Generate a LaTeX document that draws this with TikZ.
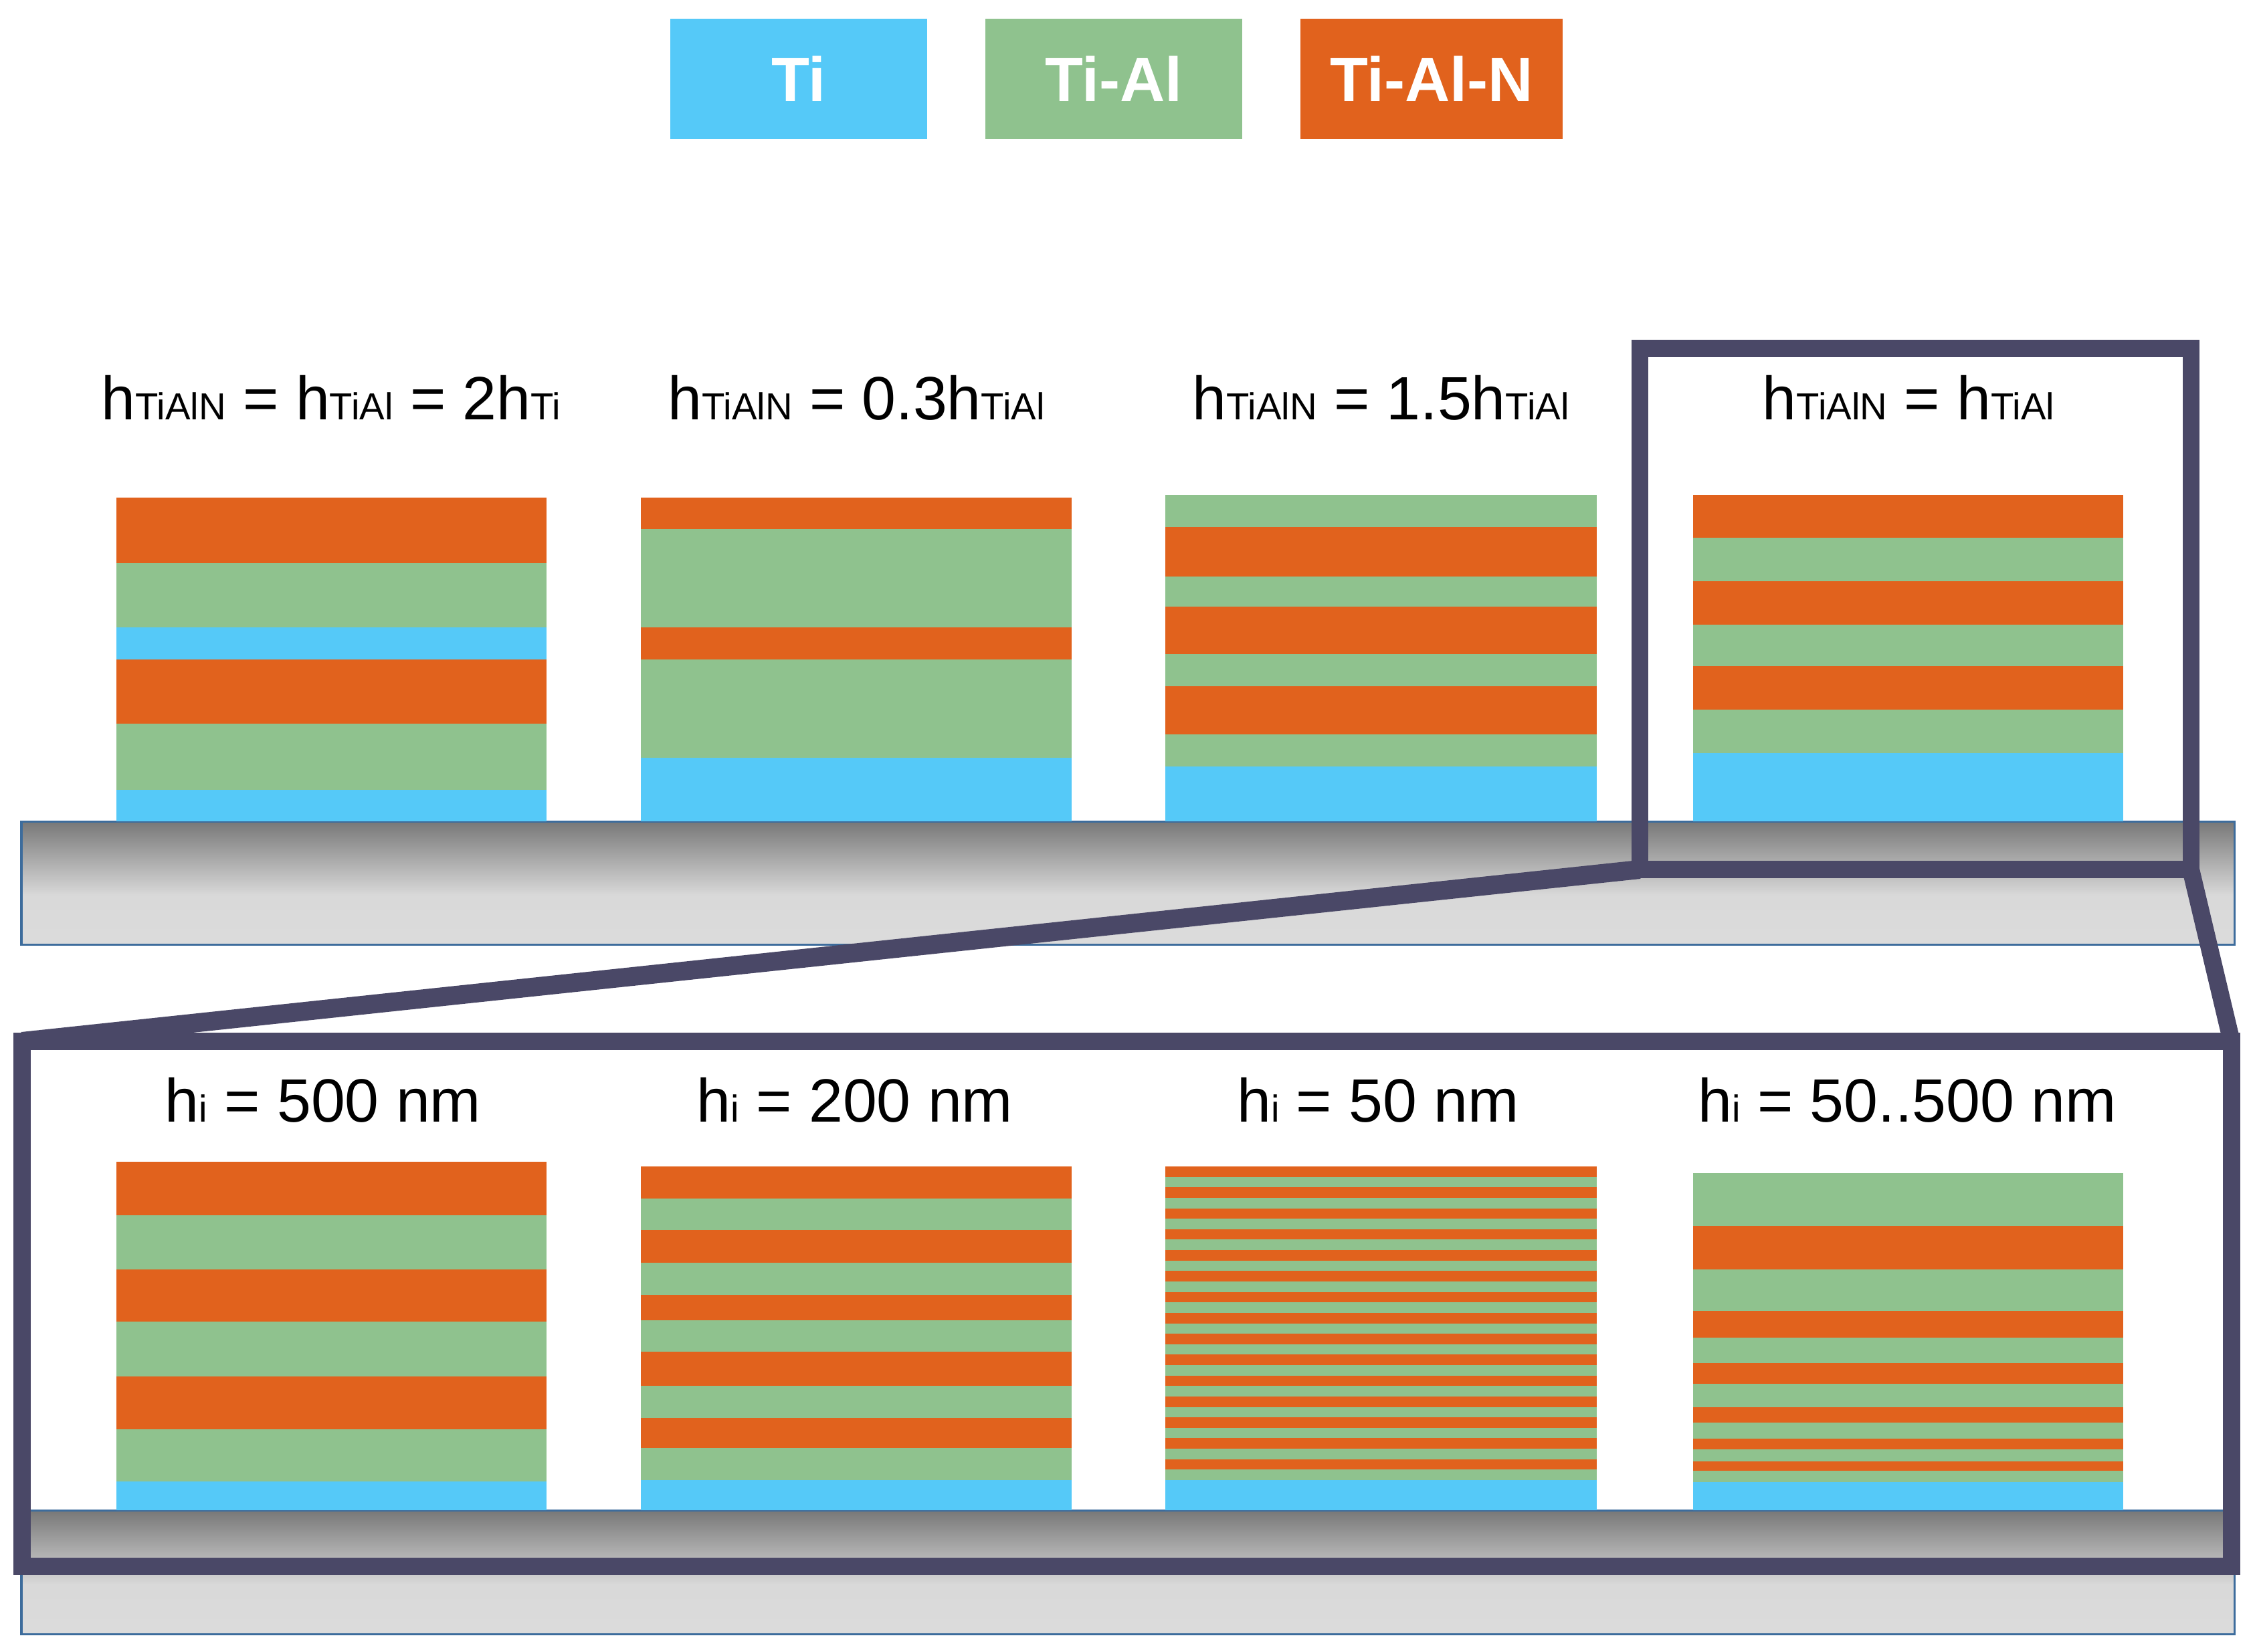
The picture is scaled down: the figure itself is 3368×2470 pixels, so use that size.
\documentclass[tikz,border=0pt]{standalone}
\usepackage{fontspec}
\setmainfont{Liberation Sans}
\definecolor{ticol}{HTML}{55C9F8}
\definecolor{tialcol}{HTML}{8FC28E}
\definecolor{tialncol}{HTML}{E1621D}
\definecolor{framecol}{HTML}{4A4867}
\definecolor{subline}{HTML}{3D6C9C}
\pgfdeclareverticalshading{substshade}{100bp}{rgb(0bp)=(0.86,0.86,0.86); rgb(25bp)=(0.86,0.86,0.86); rgb(45bp)=(0.85,0.85,0.85); rgb(75bp)=(0.47,0.47,0.47); rgb(100bp)=(0.47,0.47,0.47)}
\newcommand\mysub[1]{{\fontsize{16pt}{18pt}\selectfont #1}}
\tikzset{
  legbox/.style={minimum height=1.8cm, inner sep=0pt, text=white, font=\fontsize{26.5pt}{30pt}\selectfont\bfseries},
  lab/.style={anchor=base, inner sep=0pt, font=\fontsize{26pt}{30pt}\selectfont},
  substrate/.style={shading=substshade, draw=subline, line width=0.03cm},
  frameline/.style={draw=framecol, line width=0.26cm},
}
\begin{document}
\begin{tikzpicture}[x=0.01cm, y=-0.01cm]
\useasboundingbox (0,0) rectangle (3368,2470);
% legend
\node[legbox, fill=ticol, minimum width=3.83cm] (legti) at (1194,118) {Ti};
\node[legbox, fill=tialcol, minimum width=3.83cm] (legtial) at (1665,118) {Ti-Al};
\node[legbox, fill=tialncol, minimum width=3.91cm] (legtialn) at (2140,118) {Ti-Al-N};
% top labels
\node[lab] (t1) at (495,628) {h\mysub{TiAlN} = h\mysub{TiAl} = 2h\mysub{Ti}};
\node[lab] (t2) at (1280,628) {h\mysub{TiAlN} = 0.3h\mysub{TiAl}};
\node[lab] (t3) at (2064,628) {h\mysub{TiAlN} = 1.5h\mysub{TiAl}};
\node[lab] (t4) at (2853,628) {h\mysub{TiAlN} = h\mysub{TiAl}};
% top substrate
\path[substrate] (32,1228) rectangle (3340,1412);
% S1
\fill[tialncol] (174,744) rectangle (817,842);
\fill[tialcol] (174,842) rectangle (817,938);
\fill[ticol] (174,938) rectangle (817,986);
\fill[tialncol] (174,986) rectangle (817,1082);
\fill[tialcol] (174,1082) rectangle (817,1181);
\fill[ticol] (174,1181) rectangle (817,1228);
% S2
\fill[tialncol] (958,744) rectangle (1602,791);
\fill[tialcol] (958,791) rectangle (1602,938);
\fill[tialncol] (958,938) rectangle (1602,986);
\fill[tialcol] (958,986) rectangle (1602,1133);
\fill[ticol] (958,1133) rectangle (1602,1228);
% S3
\fill[tialcol] (1742,740) rectangle (2387,788);
\fill[tialncol] (1742,788) rectangle (2387,862);
\fill[tialcol] (1742,862) rectangle (2387,907);
\fill[tialncol] (1742,907) rectangle (2387,978);
\fill[tialcol] (1742,978) rectangle (2387,1026);
\fill[tialncol] (1742,1026) rectangle (2387,1098);
\fill[tialcol] (1742,1098) rectangle (2387,1146);
\fill[ticol] (1742,1146) rectangle (2387,1228);
% S4
\fill[tialncol] (2531,740) rectangle (3174,804);
\fill[tialcol] (2531,804) rectangle (3174,869);
\fill[tialncol] (2531,869) rectangle (3174,934);
\fill[tialcol] (2531,934) rectangle (3174,996);
\fill[tialncol] (2531,996) rectangle (3174,1061);
\fill[tialcol] (2531,1061) rectangle (3174,1126);
\fill[ticol] (2531,1126) rectangle (3174,1228);
% lower substrate
\path[substrate] (32,2258) rectangle (3340,2443);
% lower labels
\node[lab] (b1) at (483,1677) {h\mysub{i} = 500 nm};
\node[lab] (b2) at (1278,1677) {h\mysub{i} = 200 nm};
\node[lab] (b3) at (2060,1677) {h\mysub{i} = 50 nm};
\node[lab] (b4) at (2851,1677) {h\mysub{i} = 50..500 nm};
% L1
\fill[tialncol] (174,1737) rectangle (817,1817);
\fill[tialcol] (174,1817) rectangle (817,1898);
\fill[tialncol] (174,1898) rectangle (817,1976);
\fill[tialcol] (174,1976) rectangle (817,2058);
\fill[tialncol] (174,2058) rectangle (817,2137);
\fill[tialcol] (174,2137) rectangle (817,2215);
\fill[ticol] (174,2215) rectangle (817,2258);
% L2
\fill[tialncol] (958,1744) rectangle (1602,1792);
\fill[tialcol] (958,1792) rectangle (1602,1839);
\fill[tialncol] (958,1839) rectangle (1602,1888);
\fill[tialcol] (958,1888) rectangle (1602,1936);
\fill[tialncol] (958,1936) rectangle (1602,1974);
\fill[tialcol] (958,1974) rectangle (1602,2021);
\fill[tialncol] (958,2021) rectangle (1602,2072);
\fill[tialcol] (958,2072) rectangle (1602,2120);
\fill[tialncol] (958,2120) rectangle (1602,2165);
\fill[tialcol] (958,2165) rectangle (1602,2213);
\fill[ticol] (958,2213) rectangle (1602,2258);
% L3
\foreach \k in {0,...,29}{
  \pgfmathsetmacro\ya{1744+\k*15.633}
  \pgfmathsetmacro\yb{1744+(\k+1)*15.633}
  \ifodd\k \def\lc{tialcol}\else\def\lc{tialncol}\fi
  \fill[\lc] (1742,\ya) rectangle (2387,\yb);
}
\fill[ticol] (1742,2213) rectangle (2387,2258);
% L4
\fill[tialcol] (2531,1754) rectangle (3174,1833);
\fill[tialncol] (2531,1833) rectangle (3174,1898);
\fill[tialcol] (2531,1898) rectangle (3174,1960);
\fill[tialncol] (2531,1960) rectangle (3174,2000);
\fill[tialcol] (2531,2000) rectangle (3174,2038);
\fill[tialncol] (2531,2038) rectangle (3174,2069);
\fill[tialcol] (2531,2069) rectangle (3174,2104);
\fill[tialncol] (2531,2104) rectangle (3174,2127);
\fill[tialcol] (2531,2127) rectangle (3174,2151);
\fill[tialncol] (2531,2151) rectangle (3174,2167);
\fill[tialcol] (2531,2167) rectangle (3174,2185);
\fill[tialncol] (2531,2185) rectangle (3174,2199);
\fill[tialcol] (2531,2199) rectangle (3174,2216);
\fill[ticol] (2531,2216) rectangle (3174,2258);
% frames
\coordinate (htl) at (2451,521);
\coordinate (hbr) at (3275,1300);
\coordinate (hbl) at (2451,1300);
\coordinate (ftl) at (33,1557);
\coordinate (ftr) at (3336,1557);
\coordinate (fbr) at (3336,2342);
\path[frameline] (ftl) rectangle (fbr);
\path[frameline, line width=0.28cm] (hbl) -- (ftl);
\path[frameline, line width=0.26cm] (hbr) -- (ftr);
\path[frameline, line width=0.25cm] (htl) rectangle (hbr);
\end{tikzpicture}
\end{document}
